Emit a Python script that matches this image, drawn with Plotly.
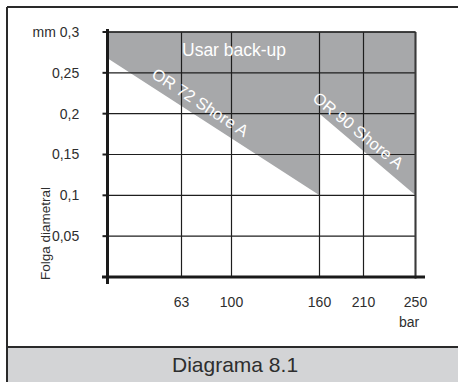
import plotly.graph_objects as go

# ---- data ----
pressure_labels = ["63", "100", "160", "210", "250"]          # bar
pressure_pos = [74, 124, 212, 256, 308]                       # schematic axis positions
clearance_ticks = [0.05, 0.1, 0.15, 0.2, 0.25, 0.3]           # mm
clearance_labels = ["0,05", "0,1", "0,15", "0,2", "0,25", "mm 0,3"]

# boundary of "use back-up" zone
or72_start = 0.268   # at x = 0
or72_end = 0.10      # at 160 bar
or90_start = 0.20    # at 160 bar
or90_end = 0.10      # at 250 bar
y_top = 0.30

W, H = 458, 382
FONT = "Liberation Sans, Arial, sans-serif"
TXT = "#2e2e2e"

x160 = pressure_pos[2]
x250 = pressure_pos[-1]

fig = go.Figure()

# grey zone
fig.add_trace(go.Scatter(
    x=[0, x250, x250, x160, x160, 0, 0],
    y=[y_top, y_top, or90_end, or90_start, or72_end, or72_start, y_top],
    fill="toself", fillcolor="#a7a8aa", mode="lines",
    line=dict(width=0, color="#a7a8aa"), hoverinfo="skip", showlegend=False))

shapes = []
GRID = "#1e1e1e"
for yv in clearance_ticks:
    shapes.append(dict(type="line", xref="x", yref="y", x0=0, x1=x250, y0=yv, y1=yv,
                       line=dict(color=GRID, width=1.2)))
    shapes.append(dict(type="line", xref="x", yref="y", x0=-5, x1=0, y0=yv, y1=yv,
                       line=dict(color=GRID, width=2)))
for xv in pressure_pos:
    shapes.append(dict(type="line", xref="x", yref="y", x0=xv, x1=xv, y0=0, y1=y_top,
                       line=dict(color=GRID, width=1.2)))
# right edge and top emphasised
shapes.append(dict(type="line", xref="x", yref="y", x0=x250, x1=x250, y0=-0.002, y1=y_top,
                   line=dict(color="#3a3a3a", width=2)))
shapes.append(dict(type="line", xref="x", yref="y", x0=0, x1=x250, y0=y_top, y1=y_top,
                   line=dict(color="#2a2a2a", width=1.6)))
# main axes
shapes.append(dict(type="line", xref="x", yref="y", x0=0, x1=0, y0=-0.0086, y1=0.3037,
                   line=dict(color="#1a1a1a", width=3)))
shapes.append(dict(type="line", xref="x", yref="y", x0=-5.5, x1=317.5, y0=0, y1=0,
                   line=dict(color="#1a1a1a", width=3)))


def py(p):
    return 1 - p / H


def px(p):
    return p / W


# frame & caption band (paper coords)
shapes.append(dict(type="rect", xref="paper", yref="paper", x0=px(7), x1=1.01, y0=-0.01, y1=py(347),
                   fillcolor="#d3d4d6", line=dict(width=0), layer="below"))
shapes.append(dict(type="line", xref="paper", yref="paper", x0=px(7), x1=1.01, y0=py(347), y1=py(347),
                   line=dict(color="#2a2a2a", width=2)))
shapes.append(dict(type="line", xref="paper", yref="paper", x0=px(7), x1=px(7), y0=-0.01, y1=py(7),
                   line=dict(color="#2a2a2a", width=2)))
shapes.append(dict(type="line", xref="paper", yref="paper", x0=px(7), x1=1.01, y0=py(7), y1=py(7),
                   line=dict(color="#2a2a2a", width=2)))

# plot area mapping (reference px): x unit = 1 px, origin at 107.5 ; y: 0 at 277, 0.3 at 32
x_left_px, x_right_px = 100, 428
x0_px = 107.5
ppu_y = 245 / 0.3
y_top_px, y_bot_px = 25, 286
xr = [x_left_px - x0_px, x_right_px - x0_px]
yr = [-(y_bot_px - 277) / ppu_y, (277 - y_top_px) / ppu_y]


def dx(p):
    return p - x0_px


def dy(p):
    return (277 - p) / ppu_y


annotations = [
    dict(x=dx(234), y=dy(50), xref="x", yref="y", text="Usar back-up", showarrow=False,
         xanchor="center", yanchor="middle",
         font=dict(family=FONT, size=17.5, color="white")),
    dict(x=dx(200), y=dy(102), xref="x", yref="y", text="OR 72 Shore A", showarrow=False,
         xanchor="center", yanchor="middle", textangle=33,
         font=dict(family=FONT, size=16.5, color="white")),
    dict(x=dx(358), y=dy(130), xref="x", yref="y", text="OR 90 Shore A", showarrow=False,
         xanchor="center", yanchor="middle", textangle=39,
         font=dict(family=FONT, size=16.5, color="white")),
    dict(x=px(409), y=py(322), xref="paper", yref="paper", text="bar", showarrow=False,
         xanchor="center", yanchor="middle",
         font=dict(family=FONT, size=14, color=TXT)),
    dict(x=px(45), y=py(234), xref="paper", yref="paper", text="Folga diametral", showarrow=False,
         xanchor="center", yanchor="middle", textangle=-90,
         font=dict(family=FONT, size=13.5, color=TXT)),
    dict(x=px(235), y=py(364), xref="paper", yref="paper", text="Diagrama 8.1", showarrow=False,
         xanchor="center", yanchor="middle",
         font=dict(family=FONT, size=21, color=TXT)),
]

fig.update_layout(
    width=W, height=H, margin=dict(l=0, r=0, t=0, b=0),
    paper_bgcolor="white", plot_bgcolor="rgba(0,0,0,0)",
    shapes=shapes, annotations=annotations, showlegend=False,
    xaxis=dict(domain=[px(x_left_px), px(x_right_px)], range=xr, showgrid=False, zeroline=False,
               showline=False, tickmode="array", tickvals=pressure_pos, ticktext=pressure_labels,
               ticks="outside", ticklen=3, tickcolor="rgba(0,0,0,0)",
               tickfont=dict(family=FONT, size=14, color=TXT), fixedrange=True),
    yaxis=dict(domain=[py(y_bot_px), py(y_top_px)], range=yr, showgrid=False, zeroline=False,
               showline=False, tickmode="array", tickvals=clearance_ticks, ticktext=clearance_labels,
               ticks="outside", ticklen=17, tickcolor="rgba(0,0,0,0)",
               tickfont=dict(family=FONT, size=14, color=TXT), fixedrange=True),
)

fig.write_html("out.html", config={"displayModeBar": False},
               post_script="document.body.style.margin='0px';")
